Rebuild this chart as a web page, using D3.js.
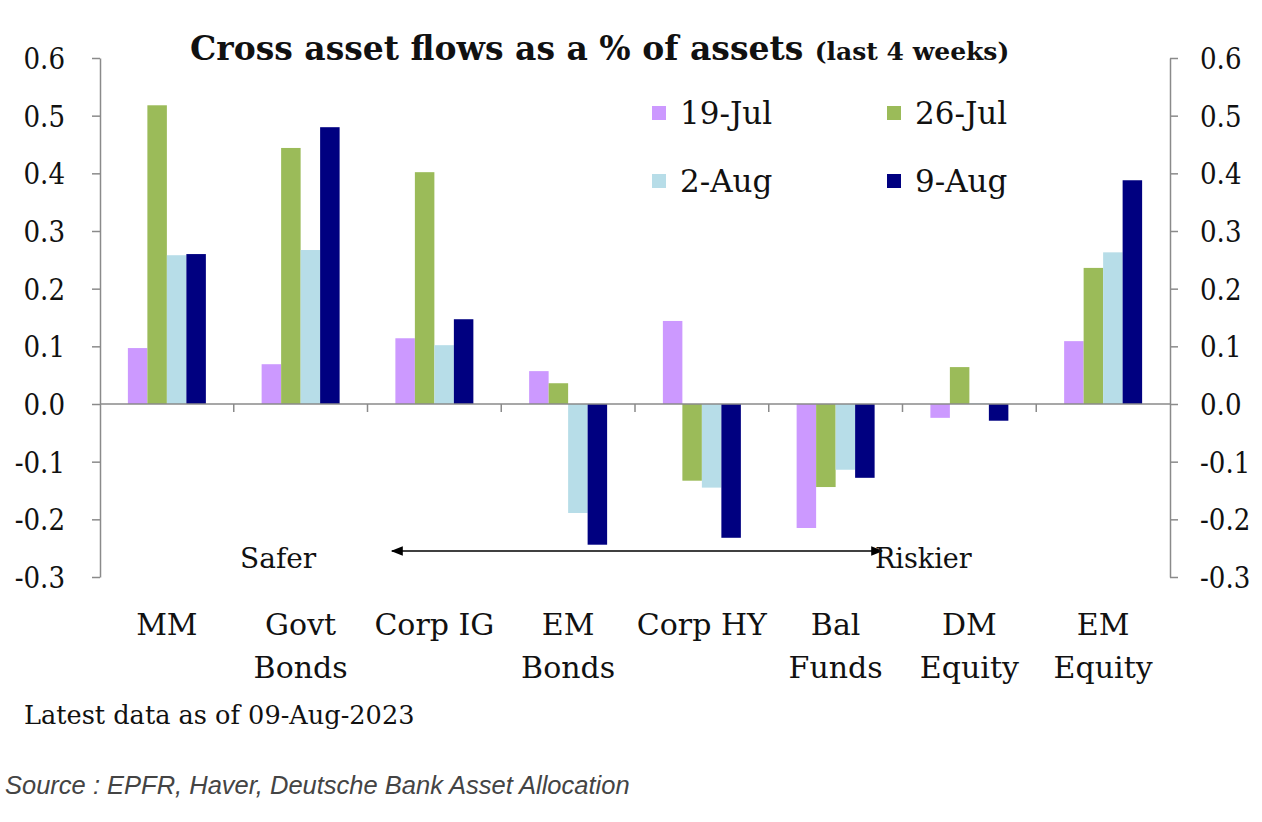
<!DOCTYPE html>
<html><head><meta charset="utf-8">
<script src="https://cdn.jsdelivr.net/npm/d3@7"></script>
<style>
body{margin:0;background:#fff;}
svg text{font-family:"DejaVu Serif",serif;fill:#111;}
</style></head>
<body><svg id="c" width="1262" height="822"></svg>
<script>
const categories = [["MM"],["Govt","Bonds"],["Corp IG"],["EM","Bonds"],["Corp HY"],["Bal","Funds"],["DM","Equity"],["EM","Equity"]];
const seriesNames = ["19-Jul","26-Jul","2-Aug","9-Aug"];
const seriesColors = ["#cc99ff","#9bbb59","#b7dde8","#000080"];
const jul19 = [0.097,0.069,0.114,0.057,0.144,-0.215,-0.024,0.109];
const jul26 = [0.518,0.444,0.402,0.036,-0.133,-0.144,0.064,0.236];
const aug2  = [0.258,0.267,0.102,-0.189,-0.145,-0.114,0.001,0.263];
const aug9  = [0.260,0.480,0.147,-0.244,-0.232,-0.128,-0.029,0.388];
const tickValues = [-0.3,-0.2,-0.1,0.0,0.1,0.2,0.3,0.4,0.5,0.6];
const tickLabels = ["-0.3","-0.2","-0.1","0.0","0.1","0.2","0.3","0.4","0.5","0.6"];

const series = [jul19,jul26,aug2,aug9];
const catKeys = categories.map(c=>c.join(" "));
const svg = d3.select("#c");
const L=100,R=1170,T=58,B=577;
const x = d3.scaleBand().domain(catKeys).range([L,R]).paddingInner(0).paddingOuter(0);
const x1 = d3.scaleBand().domain(seriesNames).range([0,x.bandwidth()]).paddingInner(0).paddingOuter(1.43);
const y = d3.scaleLinear().domain([-0.3,0.6]).range([B,T]);
const axisCol="#8a8a8a";

// bars
const g = svg.append("g");
seriesNames.forEach((s,si)=>{
  g.selectAll(null).data(series[si]).enter().append("rect")
   .attr("x",(d,i)=>x(catKeys[i])+x1(s))
   .attr("width",x1.bandwidth())
   .attr("y",d=>y(Math.max(0,d)))
   .attr("height",d=>Math.abs(y(d)-y(0)))
   .attr("fill",seriesColors[si]);
});

// axes
const fmt=(d)=>tickLabels[tickValues.indexOf(d)];
const la = svg.append("g").attr("transform",`translate(${L},0)`)
  .call(d3.axisLeft(y).tickValues(tickValues).tickFormat(fmt).tickSize(8).tickPadding(27).tickSizeOuter(0));
const ra = svg.append("g").attr("transform",`translate(${R},0)`)
  .call(d3.axisRight(y).tickValues(tickValues).tickFormat(fmt).tickSize(8).tickPadding(22).tickSizeOuter(0));
[la,ra].forEach(a=>{
  a.selectAll("path,line").attr("stroke",axisCol).attr("stroke-width",1.5);
  a.selectAll("text").style("font-size","29px").style("font-stretch","condensed").attr("fill","#111").attr("dy","0.36em");
});

// zero line and category ticks
svg.append("line").attr("x1",L).attr("x2",R).attr("y1",y(0)).attr("y2",y(0)).attr("stroke",axisCol).attr("stroke-width",1.5);
const bounds = catKeys.map(k=>x(k)).concat([R]);
svg.selectAll(null).data(bounds.slice(1,-1)).enter().append("line")
  .attr("x1",d=>d).attr("x2",d=>d).attr("y1",y(0)).attr("y2",y(0)+8)
  .attr("stroke",axisCol).attr("stroke-width",1.5);

// category labels
categories.forEach((c,i)=>{
  const t = svg.append("text").attr("x",x(catKeys[i])+x.bandwidth()/2).attr("y",635)
    .attr("text-anchor","middle").style("font-size","30px");
  c.forEach((line,li)=>t.append("tspan").attr("x",x(catKeys[i])+x.bandwidth()/2).attr("dy",li?43:0).text(line));
});

// legend
const lg = svg.append("g");
seriesNames.forEach((s,i)=>{
  const lx = i%2===0?652:887, ly = i<2?113:181;
  lg.append("rect").attr("x",lx).attr("y",ly-7).attr("width",14).attr("height",14).attr("fill",seriesColors[i]);
  lg.append("text").attr("x",lx+28).attr("y",ly+11).style("font-size","31px").text(s);
});

// title
const tt = svg.append("text").attr("x",190).attr("y",60).style("font-size","33px").style("font-weight","bold");
tt.append("tspan").text("Cross asset flows as a % of assets ");
tt.append("tspan").style("font-size","25px").text("(last 4 weeks)");

// arrow
const defs = svg.append("defs");
defs.append("marker").attr("id","ah").attr("viewBox","0 0 10 10").attr("refX",9).attr("refY",5)
  .attr("markerWidth",14).attr("markerHeight",12).attr("orient","auto-start-reverse").attr("markerUnits","userSpaceOnUse")
  .append("path").attr("d","M0,1 L10,5 L0,9 Z").attr("fill","#000");
svg.append("line").attr("x1",392).attr("x2",882).attr("y1",551).attr("y2",551)
  .attr("stroke","#000").attr("stroke-width",1.5).attr("marker-start","url(#ah)").attr("marker-end","url(#ah)");
svg.append("text").attr("x",240).attr("y",568).style("font-size","28px").text("Safer");
svg.append("text").attr("x",875).attr("y",568).style("font-size","27px").text("Riskier");

// notes
svg.append("text").attr("x",24).attr("y",724).style("font-size","25.6px").text("Latest data as of 09-Aug-2023");
svg.append("text").attr("x",5).attr("y",794).style("font-family","'Liberation Sans',Arial,sans-serif").style("font-style","italic")
  .style("font-size","25.5px").style("fill","#444").text("Source : EPFR, Haver, Deutsche Bank Asset Allocation");
</script></body></html>
